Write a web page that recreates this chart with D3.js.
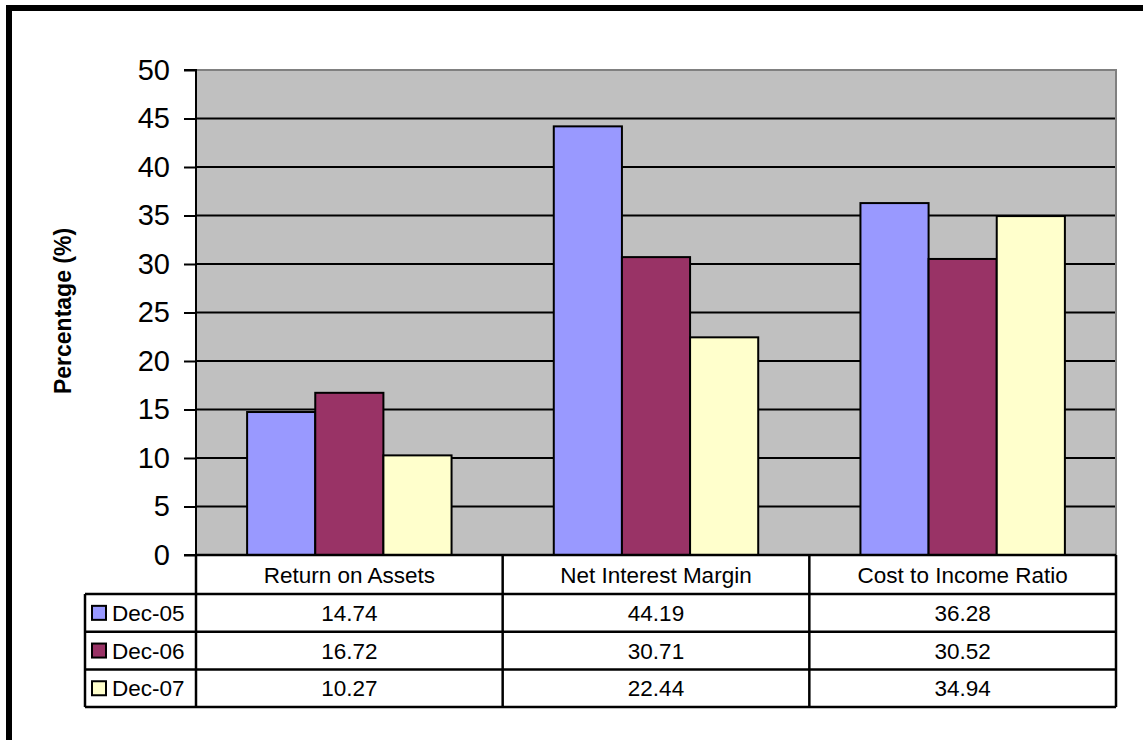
<!DOCTYPE html>
<html>
<head>
<meta charset="utf-8">
<script src="https://cdn.jsdelivr.net/npm/d3@7"></script>
<style>
  html, body { margin: 0; padding: 0; background: #fff; overflow: hidden; }
  svg { display: block; font-family: Arial, "Liberation Sans", sans-serif; }
</style>
</head>
<body>
<svg id="chart" width="1143" height="740"></svg>
<script>
// Bank performance ratios by year
const categories = ["Return on Assets", "Net Interest Margin", "Cost to Income Ratio"];
const seriesNames = ["Dec-05", "Dec-06", "Dec-07"];
const dec05 = [14.74, 44.19, 36.28];
const dec06 = [16.72, 30.71, 30.52];
const dec07 = [10.27, 22.44, 34.94];
const seriesColors = ["#9999FF", "#993366", "#FFFFCC"];
const yTicks = [0, 5, 10, 15, 20, 25, 30, 35, 40, 45, 50];
const yTitle = "Percentage (%)";

const seriesValues = [dec05, dec06, dec07];
const svg = d3.select("#chart");

// outer chart frame (runs past the right and bottom edges)
svg.append("rect")
  .attr("x", 9).attr("y", 8)
  .attr("width", 1200).attr("height", 800)
  .attr("fill", "#fff").attr("stroke", "#000").attr("stroke-width", 6);

const plot = { left: 196, right: 1116, top: 70, bottom: 555 };

const y = d3.scaleLinear().domain([0, 50]).range([plot.bottom, plot.top]);
const x0 = d3.scaleBand().domain(categories).range([plot.left, plot.right]).padding(0);
const x1 = d3.scaleBand().domain(seriesNames).range([0, x0.bandwidth()])
  .paddingInner(0).paddingOuter(0.75);

// plot area background
svg.append("rect")
  .attr("x", plot.left).attr("y", plot.top)
  .attr("width", plot.right - plot.left).attr("height", plot.bottom - plot.top)
  .attr("fill", "#C0C0C0");

// gridlines
svg.append("g")
  .selectAll("line")
  .data(yTicks.filter(t => t > 0 && t < 50))
  .join("line")
  .attr("x1", plot.left).attr("x2", plot.right)
  .attr("y1", d => y(d)).attr("y2", d => y(d))
  .attr("stroke", "#000").attr("stroke-width", 2);

// plot border (top and right in grey)
svg.append("path")
  .attr("d", `M${plot.left},${plot.top}H${plot.right}V${plot.bottom}`)
  .attr("fill", "none").attr("stroke", "#808080").attr("stroke-width", 2);

// bars
const groups = svg.append("g").selectAll("g")
  .data(categories)
  .join("g")
  .attr("transform", d => `translate(${x0(d)},0)`);

groups.selectAll("rect")
  .data((c, ci) => seriesNames.map((s, si) => ({ s, si, v: seriesValues[si][ci] })))
  .join("rect")
  .attr("x", d => x1(d.s))
  .attr("y", d => y(d.v))
  .attr("width", x1.bandwidth())
  .attr("height", d => y(0) - y(d.v))
  .attr("fill", d => seriesColors[d.si])
  .attr("stroke", "#000").attr("stroke-width", 2);

// y axis
const yAxis = d3.axisLeft(y).tickValues(yTicks).tickSize(12).tickPadding(14);
const yg = svg.append("g")
  .attr("transform", `translate(${plot.left},0)`)
  .call(yAxis);
yg.select(".domain").attr("stroke", "#000").attr("stroke-width", 2)
  .attr("d", `M-12,${plot.top}H0V${plot.bottom}H-12`);
yg.selectAll(".tick line").attr("stroke", "#000").attr("stroke-width", 2);
yg.selectAll(".tick text")
  .attr("font-size", 29).attr("fill", "#000")
  .attr("font-family", "Arial, 'Liberation Sans', sans-serif");

// axis title
svg.append("text")
  .attr("transform", "translate(71,311) rotate(-90)")
  .attr("text-anchor", "middle")
  .attr("font-size", 23).attr("font-weight", "bold")
  .text(yTitle);

// data table
const table = { left: 85, headerTop: plot.bottom, headerBottom: 594, rowH: 37.7 };
const rowTop = i => table.headerBottom + i * table.rowH;
const tableBottom = rowTop(seriesNames.length);
const tg = svg.append("g");
const tableFont = 22.5;

tg.append("rect")
  .attr("x", plot.left).attr("y", table.headerTop)
  .attr("width", plot.right - plot.left).attr("height", tableBottom - table.headerTop)
  .attr("fill", "#fff");
tg.append("rect")
  .attr("x", table.left).attr("y", table.headerBottom)
  .attr("width", plot.left - table.left).attr("height", tableBottom - table.headerBottom)
  .attr("fill", "#fff");

const lineAttrs = sel => sel.attr("stroke", "#000").attr("stroke-width", 2.5);

// horizontal rules
tg.selectAll("line.h")
  .data(d3.range(seriesNames.length + 1))
  .join("line").attr("class", "h")
  .attr("x1", table.left).attr("x2", plot.right)
  .attr("y1", i => rowTop(i)).attr("y2", i => rowTop(i))
  .call(lineAttrs);
tg.append("line")
  .attr("x1", plot.left).attr("x2", plot.right)
  .attr("y1", plot.bottom).attr("y2", plot.bottom)
  .call(lineAttrs);

// vertical rules
const vxs = [plot.left].concat(categories.map(c => x0(c) + x0.bandwidth()));
tg.selectAll("line.v")
  .data(vxs)
  .join("line").attr("class", "v")
  .attr("x1", d => d).attr("x2", d => d)
  .attr("y1", table.headerTop).attr("y2", tableBottom)
  .call(lineAttrs);
tg.append("line")
  .attr("x1", table.left).attr("x2", table.left)
  .attr("y1", table.headerBottom).attr("y2", tableBottom)
  .call(lineAttrs);

// category headers
tg.selectAll("text.cat")
  .data(categories)
  .join("text").attr("class", "cat")
  .attr("x", d => x0(d) + x0.bandwidth() / 2)
  .attr("y", (table.headerTop + table.headerBottom) / 2)
  .attr("dy", "0.36em")
  .attr("text-anchor", "middle")
  .attr("font-size", tableFont)
  .text(d => d);

// legend keys and series labels
const legendRows = tg.selectAll("g.row")
  .data(seriesNames)
  .join("g").attr("class", "row")
  .attr("transform", (d, i) => `translate(0,${rowTop(i) + table.rowH / 2})`);

legendRows.append("rect")
  .attr("x", 92).attr("y", -7)
  .attr("width", 14).attr("height", 14)
  .attr("fill", (d, i) => seriesColors[i])
  .attr("stroke", "#000").attr("stroke-width", 2);

legendRows.append("text")
  .attr("x", 112).attr("dy", "0.36em")
  .attr("font-size", tableFont)
  .text(d => d);

// values
legendRows.each(function (s, si) {
  d3.select(this).selectAll("text.val")
    .data(categories.map((c, ci) => ({ c, v: seriesValues[si][ci] })))
    .join("text").attr("class", "val")
    .attr("x", d => x0(d.c) + x0.bandwidth() / 2)
    .attr("dy", "0.36em")
    .attr("text-anchor", "middle")
    .attr("font-size", tableFont)
    .text(d => d.v.toFixed(2));
});
</script>
</body>
</html>
